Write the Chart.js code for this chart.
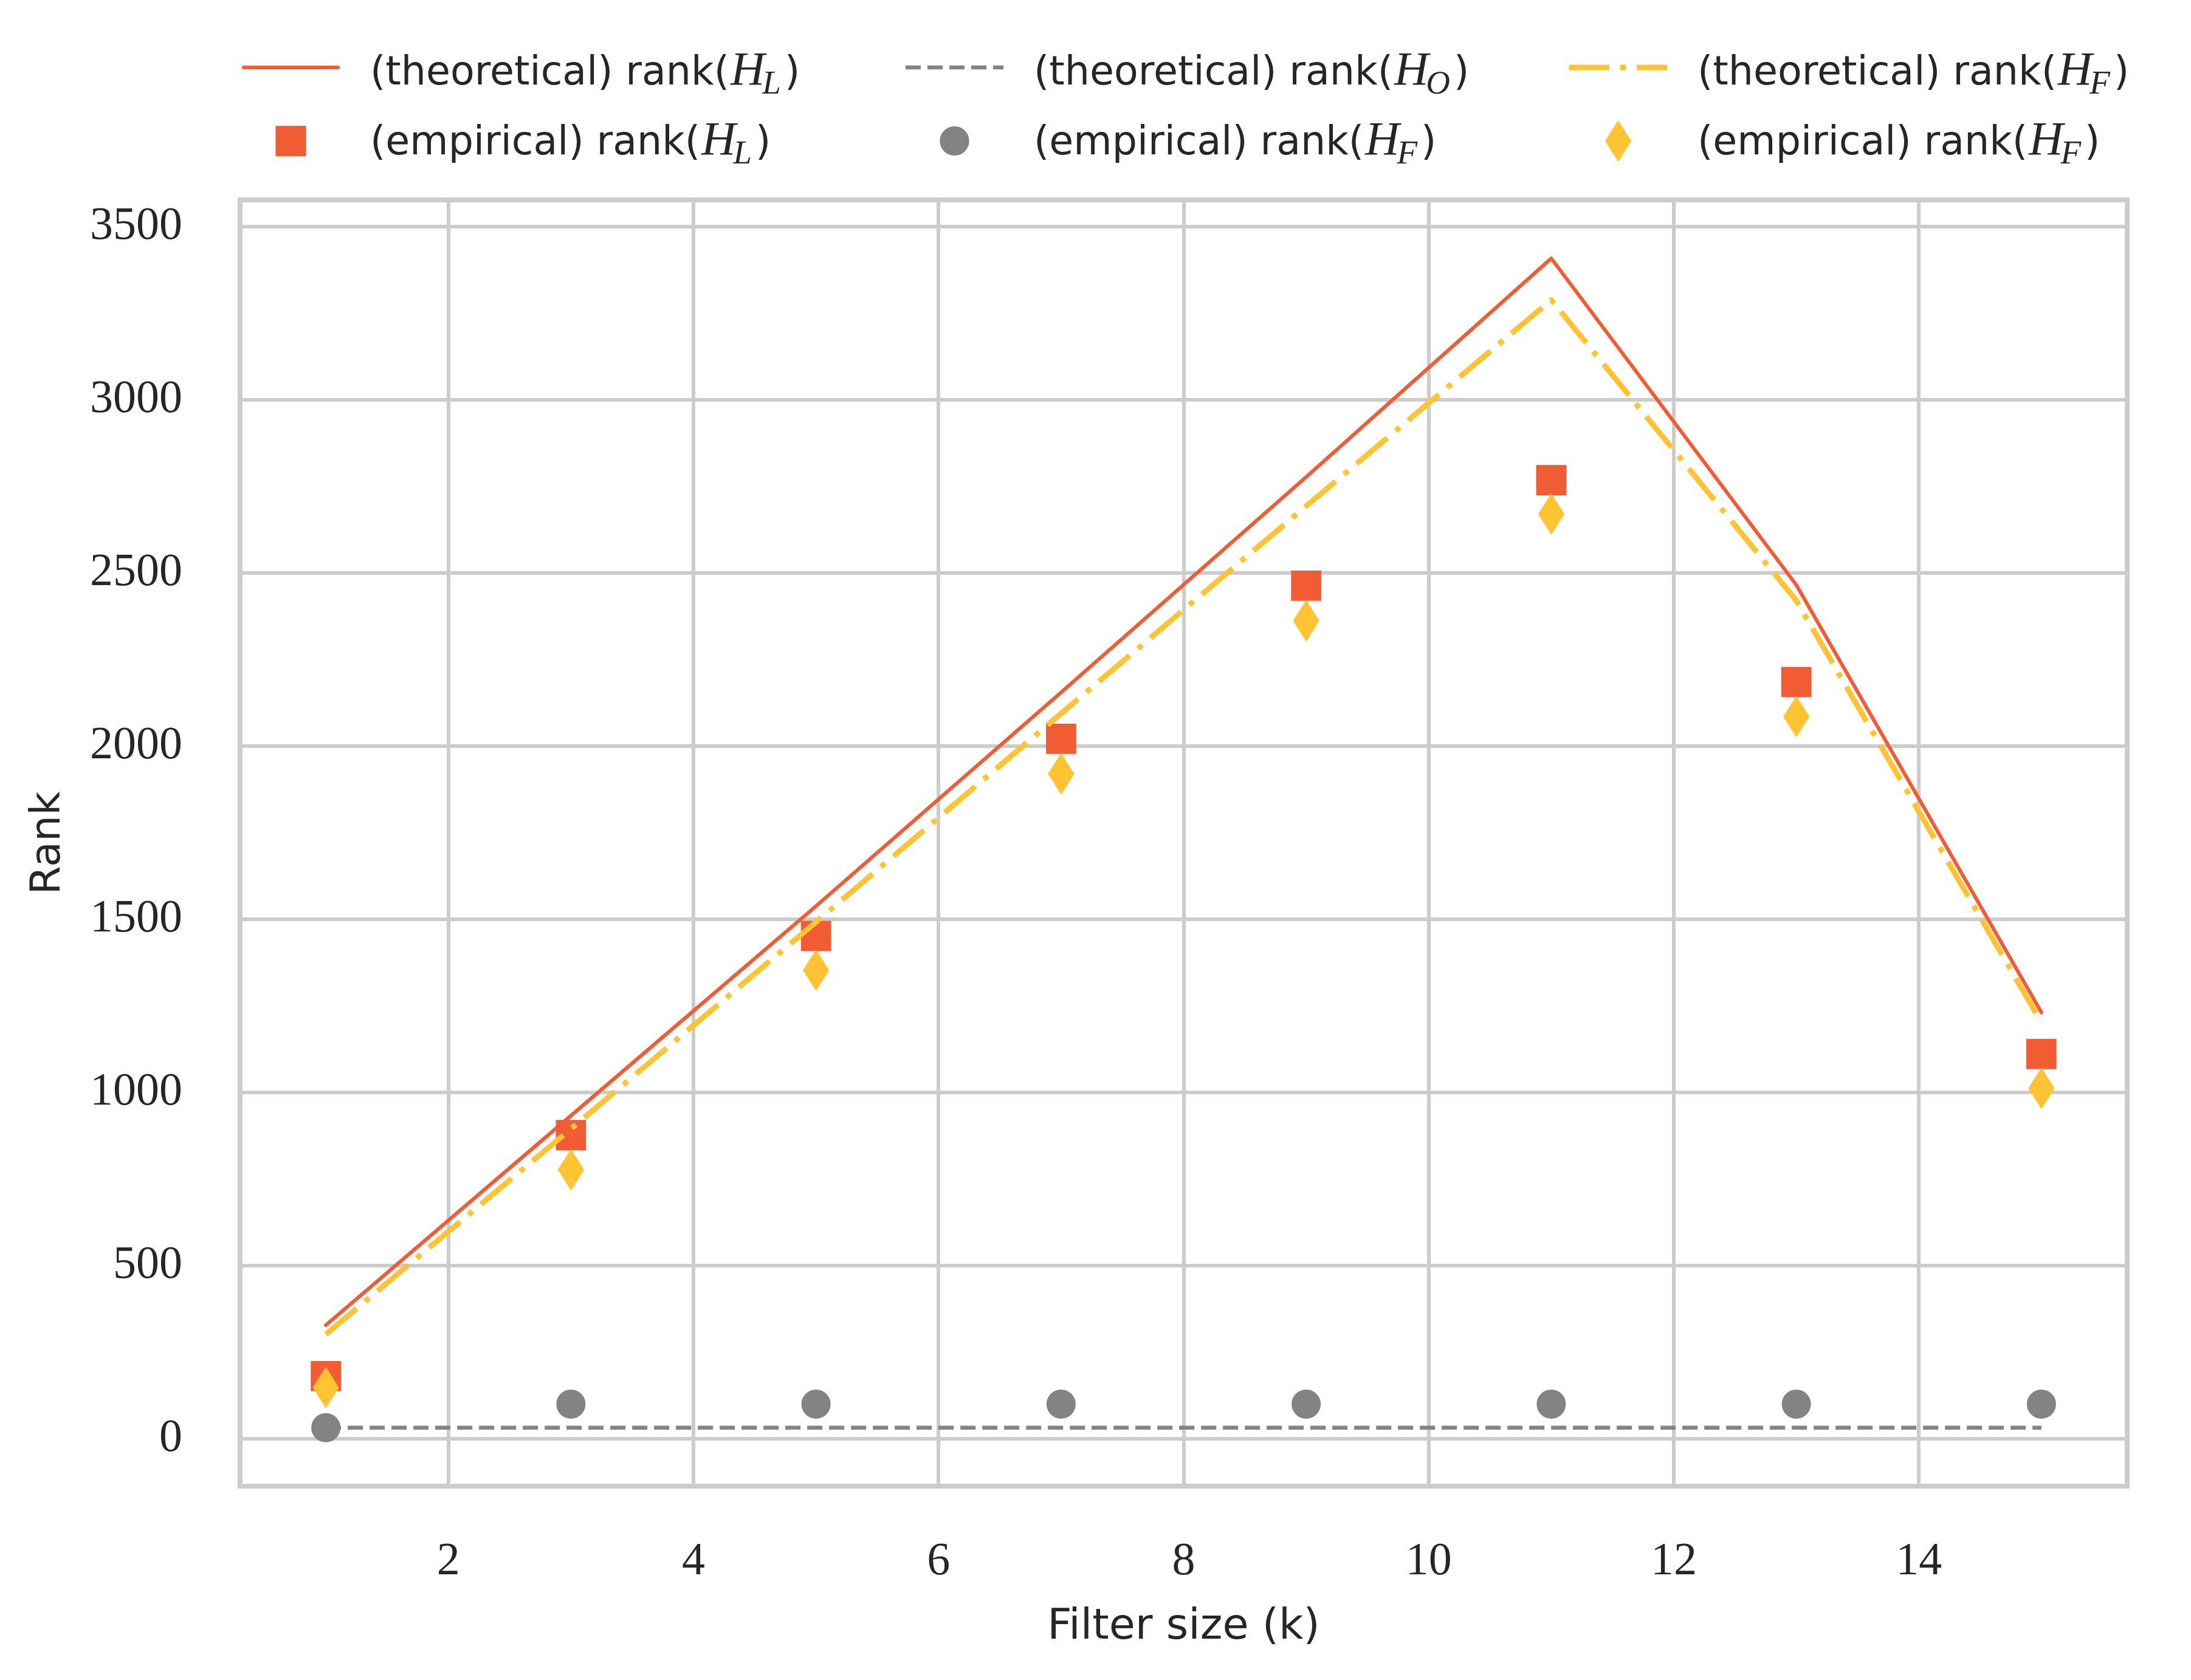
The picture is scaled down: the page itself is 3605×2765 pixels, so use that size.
<!DOCTYPE html>
<html>
<head>
<meta charset="utf-8">
<title>Rank vs filter size</title>
<script src="https://cdn.jsdelivr.net/npm/chart.js@4.4.1/dist/chart.umd.min.js"></script>
<style>
    html, body { margin: 0; padding: 0; background: #ffffff; }
    canvas { display: block; }
</style>
</head>
<body>
<canvas id="rank-chart" width="3605" height="2765" style="width:3605px;height:2765px"></canvas>
<script>
// values (odd filter sizes only)
const filterSizes = [1, 3, 5, 7, 9, 11, 13, 15];
const theoreticalL = [328, 933, 1538, 2155, 2777, 3408, 2465, 1231];
const empiricalL = [181, 877, 1452, 2021, 2463, 2768, 2185, 1111];
const theoreticalO = [32, 32, 32, 32, 32, 32, 32, 32];
const empiricalO = [32, 100, 100, 100, 100, 100, 100, 100];
const theoreticalF = [302, 895, 1492, 2094, 2693, 3288, 2420, 1202];
const empiricalF = [148, 777, 1353, 1920, 2362, 2670, 2085, 1012];

const xTicks = [2, 4, 6, 8, 10, 12, 14];
const yTicks = [0, 500, 1000, 1500, 2000, 2500, 3000, 3500];

const seriesLabels = [
    '(theoretical) rank($H_L$)',
    '(empirical) rank($H_L$)',
    '(theoretical) rank($H_O$)',
    '(empirical) rank($H_F$)',
    '(theoretical) rank($H_F$)',
    '(empirical) rank($H_F$)'
];

const RED = '#f25c35';
const GRAY = '#838383';
const YELLOW = '#ffc334';
const TEXT = '#262626';
const GRID = '#cccccc';

const SANS = '"DejaVu Sans", sans-serif';
const SERIF = '"Liberation Serif", serif';

function toPoints(values) {
    return filterSizes.map((k, i) => ({ x: k, y: values[i] }));
}

// matplotlib style 5% margins
const xLo = Math.min(...filterSizes), xHi = Math.max(...filterSizes);
const xPad = 0.05 * (xHi - xLo);
const allValues = [].concat(theoreticalL, empiricalL, theoreticalO, empiricalO, theoreticalF, empiricalF);
const yLo = Math.min(...allValues), yHi = Math.max(...allValues);
const yPad = 0.05 * (yHi - yLo);

function makeThinDiamond(w, h, color) {
    const c = document.createElement('canvas');
    c.width = w;
    c.height = h;
    const g = c.getContext('2d');
    g.fillStyle = color;
    g.strokeStyle = color;
    g.lineWidth = 2;
    g.lineJoin = 'round';
    g.beginPath();
    g.moveTo(w / 2, 1.5);
    g.lineTo(w - 1.5, h / 2);
    g.lineTo(w / 2, h - 1.5);
    g.lineTo(1.5, h / 2);
    g.closePath();
    g.fill();
    g.stroke();
    return c;
}
const thinDiamond = makeThinDiamond(44, 68, YELLOW);

function lineSet(label, values, color, width, dash, cap) {
    return {
        label: label,
        data: toPoints(values),
        showLine: true,
        borderColor: color,
        backgroundColor: color,
        borderWidth: width,
        borderDash: dash,
        borderCapStyle: cap,
        borderJoinStyle: 'round',
        pointRadius: 0,
        tension: 0
    };
}

function markerSet(label, values, color, style, radius, borderWidth) {
    return {
        label: label,
        data: toPoints(values),
        showLine: false,
        backgroundColor: color,
        borderColor: color,
        pointStyle: style,
        pointRadius: radius,
        pointBorderWidth: borderWidth,
        pointBackgroundColor: color,
        pointBorderColor: color
    };
}

const datasets = [
    lineSet(seriesLabels[0], theoreticalL, RED, 6, [], 'round'),
    markerSet(seriesLabels[1], empiricalL, RED, 'rect', 33, 3),
    lineSet(seriesLabels[2], theoreticalO, GRAY, 6.5, [25, 11], 'butt'),
    markerSet(seriesLabels[3], empiricalO, GRAY, 'circle', 23, 2),
    lineSet(seriesLabels[4], theoreticalF, YELLOW, 9, [66, 18, 9, 18], 'butt'),
    markerSet(seriesLabels[5], empiricalF, YELLOW, thinDiamond, 30, 0)
];
// later series sit on top, as in the original
datasets.forEach((d, i) => { d.order = datasets.length - i; });

// outer frame of the axes
const framePlugin = {
    id: 'frame',
    beforeDatasetsDraw(chart) {
        const { ctx, chartArea } = chart;
        ctx.save();
        ctx.strokeStyle = GRID;
        ctx.lineWidth = 8;
        ctx.strokeRect(chartArea.left, chartArea.top,
            chartArea.right - chartArea.left, chartArea.bottom - chartArea.top);
        ctx.restore();
    }
};

// draw a label like "(theoretical) rank($H_L$)" with math italic H and subscript
function drawMathLabel(ctx, text, x, baseline, size) {
    const parts = text.split('$');
    let cx = x;
    parts.forEach((part, idx) => {
        if (!part) return;
        if (idx % 2 === 0) {
            ctx.font = size + 'px ' + SANS;
            ctx.fillText(part, cx, baseline);
            cx += ctx.measureText(part).width;
        } else {
            const [base, sub] = part.split('_');
            const mSize = Math.round(size * 1.2);
            ctx.font = 'italic ' + mSize + 'px ' + SERIF;
            ctx.fillText(base, cx + 2, baseline);
            cx += ctx.measureText(base).width + 4;
            if (sub) {
                const sSize = Math.round(mSize * 0.7);
                ctx.font = 'italic ' + sSize + 'px ' + SERIF;
                ctx.fillText(sub, cx - 6, baseline + 15);
                cx += ctx.measureText(sub).width;
            }
        }
    });
}

// three-column legend above the axes, filled column by column
const legendPlugin = {
    id: 'topLegend',
    afterDraw(chart) {
        const ctx = chart.ctx;
        const colStart = [398, 1490, 2582];
        const sampleLen = 161;
        const textGap = 211;
        const rowMid = [111, 232];
        const rowBase = [139, 254];
        chart.data.datasets.forEach((ds, i) => {
            const col = Math.floor(i / 2);
            const row = i % 2;
            const x0 = colStart[col];
            const y = rowMid[row];
            ctx.save();
            if (ds.showLine) {
                ctx.strokeStyle = ds.borderColor;
                ctx.lineWidth = ds.borderWidth;
                ctx.setLineDash(ds.borderDash || []);
                ctx.lineCap = ds.borderCapStyle;
                ctx.beginPath();
                ctx.moveTo(x0 + (ds.borderCapStyle === 'round' ? 3 : 0), y);
                ctx.lineTo(x0 + sampleLen - (ds.borderCapStyle === 'round' ? 3 : 0), y);
                ctx.stroke();
            } else {
                ctx.fillStyle = ds.pointBackgroundColor;
                ctx.strokeStyle = ds.pointBorderColor;
                ctx.lineWidth = ds.pointBorderWidth;
                Chart.helpers.drawPoint(ctx, {
                    pointStyle: ds.pointStyle,
                    radius: ds.pointRadius,
                    borderWidth: ds.pointBorderWidth,
                    rotation: 0
                }, x0 + sampleLen / 2, y);
                ctx.fill();
                if (ds.pointBorderWidth) ctx.stroke();
            }
            ctx.restore();

            ctx.save();
            ctx.fillStyle = TEXT;
            ctx.textBaseline = 'alphabetic';
            drawMathLabel(ctx, ds.label, x0 + textGap, rowBase[row], 65);
            ctx.restore();
        });
    }
};

Chart.defaults.color = TEXT;

new Chart(document.getElementById('rank-chart').getContext('2d'), {
    type: 'scatter',
    data: { datasets: datasets },
    options: {
        responsive: false,
        animation: false,
        devicePixelRatio: 1,
        events: [],
        layout: { padding: { top: 329, right: 105, left: 0, bottom: 0 } },
        plugins: {
            legend: { display: false },
            tooltip: { enabled: false }
        },
        scales: {
            x: {
                type: 'linear',
                min: xLo - xPad,
                max: xHi + xPad,
                afterBuildTicks: axis => { axis.ticks = xTicks.map(v => ({ value: v })); },
                afterFit: axis => { axis.height = 319; },
                grid: { color: GRID, lineWidth: 6, drawTicks: false },
                border: { display: false },
                ticks: {
                    padding: 79,
                    color: TEXT,
                    font: { family: SERIF, size: 76 },
                    maxRotation: 0,
                    callback: v => String(v)
                },
                title: {
                    display: true,
                    text: 'Filter size (k)',
                    color: TEXT,
                    font: { family: SANS, size: 70 },
                    padding: { top: 0, bottom: 44 }
                }
            },
            y: {
                type: 'linear',
                min: yLo - yPad,
                max: yHi + yPad,
                afterBuildTicks: axis => { axis.ticks = yTicks.map(v => ({ value: v })); },
                afterFit: axis => { axis.width = 395; },
                grid: { color: GRID, lineWidth: 6, drawTicks: false },
                border: { display: false },
                ticks: {
                    padding: 95,
                    color: TEXT,
                    font: { family: SERIF, size: 76 },
                    callback: v => String(v)
                },
                title: {
                    display: true,
                    text: 'Rank',
                    color: TEXT,
                    font: { family: SANS, size: 68 },
                    padding: { top: 40, bottom: 0 }
                }
            }
        }
    },
    plugins: [framePlugin, legendPlugin]
});
</script>
</body>
</html>
